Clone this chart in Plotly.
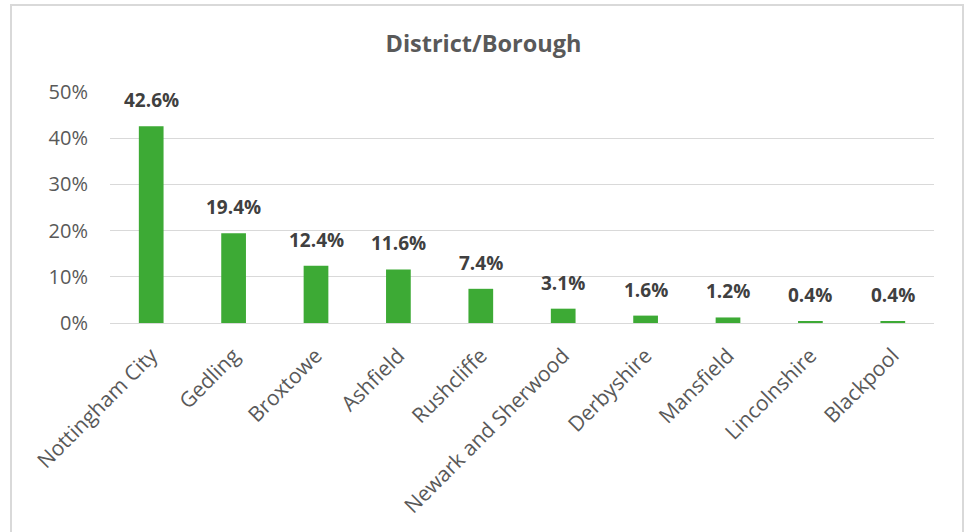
import plotly.graph_objects as go

categories = ["Nottingham City", "Gedling", "Broxtowe", "Ashfield", "Rushcliffe",
              "Newark and Sherwood", "Derbyshire", "Mansfield", "Lincolnshire", "Blackpool"]
values = [42.6, 19.4, 12.4, 11.6, 7.4, 3.1, 1.6, 1.2, 0.4, 0.4]
tick_vals = [0, 10, 20, 30, 40, 50]
tick_text = ["0%", "10%", "20%", "30%", "40%", "50%"]

FONT = "Open Sans"
GREEN = "#3DAA35"

fig = go.Figure()
fig.add_trace(go.Bar(x=categories, y=values, marker=dict(color=GREEN, line=dict(width=0)),
                     width=0.3, hoverinfo="skip"))

for c, v in zip(categories, values):
    fig.add_annotation(x=c, y=v, text=f"<b>{v:.1f}%</b>", showarrow=False,
                       yanchor="bottom", yshift=11,
                       font=dict(family=FONT, size=19, color="#404040"))

fig.update_layout(
    width=967, height=532,
    margin=dict(l=110, r=33, t=92, b=209),
    paper_bgcolor="white", plot_bgcolor="white",
    showlegend=False,
    title=dict(text="<b>District/Borough</b>", x=0.5, xref="container", y=1 - 44 / 532,
               yanchor="middle", xanchor="center",
               font=dict(family=FONT, size=23.5, color="#595959")),
    font=dict(family=FONT, color="#595959"),
    xaxis=dict(tickangle=-45, tickfont=dict(family=FONT, size=21, color="#595959"),
               showgrid=False, showline=True, linecolor="#D9D9D9", linewidth=1,
               ticks="", ticklen=0, ticklabelstandoff=11),
    yaxis=dict(range=[0, 50], tickvals=tick_vals, ticktext=tick_text,
               tickfont=dict(family=FONT, size=20, color="#595959"),
               showgrid=True, gridcolor="#D9D9D9", gridwidth=1, zeroline=False,
               showline=False, ticks="", ticklen=0, ticklabelstandoff=21),
    bargap=0.7,
    shapes=[dict(type="rect", xref="paper", yref="paper",
                 x0=(11 - 110) / 824, x1=(963 - 110) / 824,
                 y0=-1.2, y1=(323 - 5) / 231,
                 line=dict(color="#D9D9D9", width=2), fillcolor="rgba(0,0,0,0)", layer="below")],
)

fig.write_html("out.html")
